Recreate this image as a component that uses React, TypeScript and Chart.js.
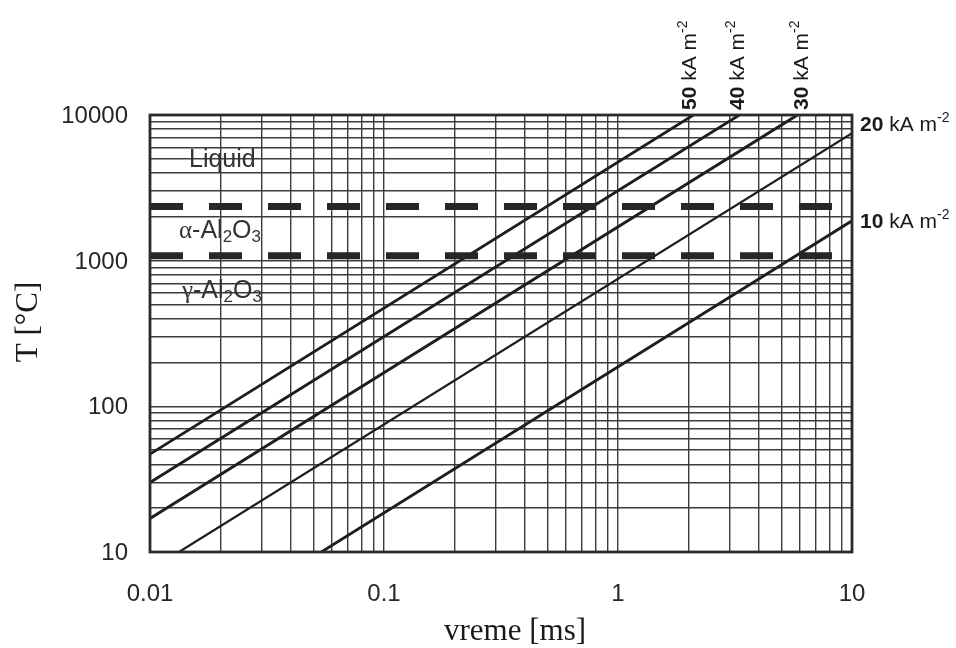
import React, { useEffect, useRef } from 'react';
import { Chart, registerables } from 'chart.js';

Chart.register(...registerables);

// ---- data ----
const xTickLabels = [0.01, 0.1, 1, 10];
const yTickLabels = [10, 100, 1000, 10000];

const currentLabels = ['50', '40', '30', '20', '10'];

const time50 = [0.01, 2.1];
const temp50 = [47, 10000];
const time40 = [0.01, 3.3];
const temp40 = [30, 10000];
const time30 = [0.01, 5.85];
const temp30 = [17, 10000];
const time20 = [0.0133, 10];
const temp20 = [10, 7500];
const time10 = [0.054, 10];
const temp10 = [10, 1880];

const phaseTimes = [0.01, 10];
const liquidusTemps = [2350, 2350];
const gammaAlphaTemps = [1080, 1080];

const regionLabels = ['Liquid', 'α-Al₂O₃', 'γ-Al₂O₃'];

// log grid lines (1..9 × each decade)
function decadeGrid(decades: number[]): number[] {
  const out: number[] = [];
  for (let i = 0; i < decades.length - 1; i++) {
    for (let m = 1; m <= 9; m++) out.push(decades[i] * m);
  }
  out.push(decades[decades.length - 1]);
  return out;
}

const SANS = '"Liberation Sans", Arial, sans-serif';
const SERIF = '"Liberation Serif", "Times New Roman", serif';

type Run = { text: string; font: string; dy?: number };

function drawRuns(ctx: CanvasRenderingContext2D, runs: Run[], x: number, y: number) {
  let cx = x;
  for (const r of runs) {
    ctx.font = r.font;
    ctx.fillText(r.text, cx, y + (r.dy || 0));
    cx += ctx.measureText(r.text).width;
  }
}

function phaseRuns(prefix: string): Run[] {
  return [
    { text: prefix, font: `25px ${SERIF}` },
    { text: '-Al', font: `25px ${SANS}` },
    { text: '2', font: `17px ${SANS}`, dy: 4 },
    { text: 'O', font: `25px ${SANS}` },
    { text: '3', font: `17px ${SANS}`, dy: 4 },
  ];
}

function currentRuns(num: string): Run[] {
  return [
    { text: num, font: `bold 21px ${SANS}` },
    { text: ' kA m', font: `21px ${SANS}` },
    { text: '-2', font: `14px ${SANS}`, dy: -9 },
  ];
}

const annotations = {
  id: 'annotations',
  afterDraw(chart: any) {
    const { ctx, chartArea: a, scales } = chart;
    const x = scales.x;
    const y = scales.y;
    ctx.save();

    // plot frame
    ctx.strokeStyle = '#2b2b2b';
    ctx.lineWidth = 2.8;
    ctx.strokeRect(a.left, a.top, a.right - a.left, a.bottom - a.top);

    // tick labels
    ctx.fillStyle = '#262626';
    ctx.textBaseline = 'alphabetic';
    ctx.font = `24px ${SANS}`;
    ctx.textAlign = 'center';
    xTickLabels.forEach((v) => ctx.fillText(String(v), x.getPixelForValue(v), a.bottom + 49));
    ctx.textAlign = 'right';
    yTickLabels.forEach((v) => ctx.fillText(String(v), a.left - 22, y.getPixelForValue(v) + 8));

    // axis titles
    ctx.fillStyle = '#1a1a1a';
    ctx.textAlign = 'center';
    ctx.font = `31px ${SERIF}`;
    ctx.fillText('vreme [ms]', 515, 640);
    ctx.save();
    ctx.translate(37, 322);
    ctx.rotate(-Math.PI / 2);
    ctx.fillText('T [°C]', 0, 0);
    ctx.restore();

    // region labels
    ctx.textAlign = 'left';
    ctx.fillStyle = '#333';
    ctx.font = `25px ${SANS}`;
    ctx.fillText(regionLabels[0], 189, 167);
    drawRuns(ctx, phaseRuns(regionLabels[1].charAt(0)), 179, 238);
    drawRuns(ctx, phaseRuns(regionLabels[2].charAt(0)), 182, 298);

    // current density labels
    ctx.fillStyle = '#1a1a1a';
    drawRuns(ctx, currentRuns(currentLabels[3]), 860, 131);
    drawRuns(ctx, currentRuns(currentLabels[4]), 860, 228);
    const topX = [696, 744, 808];
    for (let i = 0; i < 3; i++) {
      ctx.save();
      ctx.translate(topX[i], 110);
      ctx.rotate(-Math.PI / 2);
      drawRuns(ctx, currentRuns(currentLabels[i]), 0, 0);
      ctx.restore();
    }
    ctx.restore();
  },
};

function pts(t: number[], v: number[]) {
  return t.map((tt, i) => ({ x: tt, y: v[i] }));
}

export default function App() {
  const ref = useRef<HTMLCanvasElement | null>(null);

  useEffect(() => {
    if (!ref.current) return;
    const curve = (t: number[], v: number[], w: number) => ({
      data: pts(t, v),
      borderColor: '#1e1e1e',
      borderWidth: w,
      pointRadius: 0,
      tension: 0,
      fill: false,
      clip: 0,
    });
    const dashed = (v: number[]) => ({
      data: pts(phaseTimes, v),
      borderColor: '#262626',
      borderWidth: 7,
      borderDash: [33, 26],
      borderCapStyle: 'butt',
      pointRadius: 0,
      fill: false,
    });
    const xGrid = decadeGrid(xTickLabels);
    const yGrid = decadeGrid(yTickLabels);
    const gridOpts = { color: '#3c3c3c', lineWidth: 1.4, drawTicks: false };
    const chart = new Chart(ref.current, {
      type: 'line',
      data: {
        datasets: [
          dashed(liquidusTemps),
          dashed(gammaAlphaTemps),
          curve(time50, temp50, 2.8),
          curve(time40, temp40, 2.8),
          curve(time30, temp30, 3.0),
          curve(time20, temp20, 2.2),
          curve(time10, temp10, 2.8),
        ] as any,
      },
      options: {
        responsive: false,
        animation: false,
        devicePixelRatio: 1,
        layout: { padding: { left: 150, top: 115, right: 104, bottom: 96 } },
        plugins: { legend: { display: false }, tooltip: { enabled: false } },
        scales: {
          x: {
            type: 'logarithmic',
            min: 0.01,
            max: 10,
            ticks: { display: false, autoSkip: false },
            grid: gridOpts,
            border: { display: false },
            afterBuildTicks: (s: any) => {
              s.ticks = xGrid.map((v) => ({ value: v }));
            },
          },
          y: {
            type: 'logarithmic',
            min: 10,
            max: 10000,
            ticks: { display: false, autoSkip: false },
            grid: gridOpts,
            border: { display: false },
            afterBuildTicks: (s: any) => {
              s.ticks = yGrid.map((v) => ({ value: v }));
            },
          },
        },
      } as any,
      plugins: [annotations],
    });
    return () => chart.destroy();
  }, []);

  return (
    <div style={{ position: 'absolute', left: 0, top: 0, width: 956, height: 648, background: '#fff' }}>
      <canvas ref={ref} width={956} height={648} style={{ width: 956, height: 648 }} />
    </div>
  );
}
